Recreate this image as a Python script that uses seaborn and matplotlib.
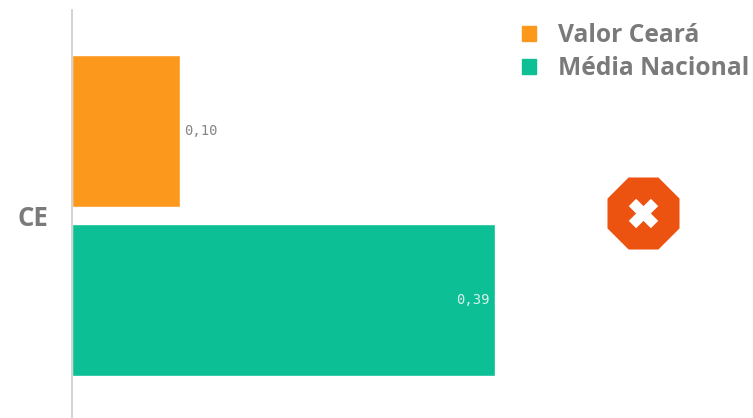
import pandas as pd
import seaborn as sns
import matplotlib.pyplot as plt
from matplotlib.patches import Patch

# Dados do grafico
estados = ['CE', 'CE']
series = ['Valor Ceará', 'Média Nacional']
valores = [0.10, 0.39]
rotulos = ['0,10', '0,39']
cores = ['#FC991D', '#0CBF95']

df = pd.DataFrame({'Estado': estados, 'Serie': series, 'Valor': valores})

sns.set_style('white')
plt.rcParams['font.family'] = ['Open Sans', 'DejaVu Sans']

W, H = 753, 418
fig = plt.figure(figsize=(W / 100, H / 100), dpi=100)
ax = fig.add_axes([72 / W, 0, 681 / W, 408 / H])

sns.barplot(data=df, y='Estado', x='Valor', hue='Serie', palette=cores, hue_order=series,
            width=0.8, gap=0.1, saturation=1, legend=False, ax=ax)

ax.set_xlim(0, 681 / 1084)
ax.set_ylim(0.4804, -0.4856)
ax.set_xlabel('')
ax.set_ylabel('')
ax.set_xticks([])
ax.tick_params(axis='y', length=0, pad=17)
for lab in ax.get_yticklabels():
    lab.set_fontsize(18.5)
    lab.set_fontweight('bold')
    lab.set_color('#7a7a7a')

sns.despine(ax=ax, top=True, right=True, bottom=True)
ax.spines['left'].set_color('#d2d2d2')
ax.spines['left'].set_linewidth(1.4)

# Rotulos de valor
ax.bar_label(ax.containers[0], labels=[rotulos[0]], padding=3, color='#858585',
             fontsize=10, family='DejaVu Sans Mono')
ax.bar_label(ax.containers[1], labels=[rotulos[1]], padding=-28, color='#d8f3ec',
             fontsize=10, family='DejaVu Sans Mono')

# Legenda
handles = [Patch(color=c, label=s) for c, s in zip(cores, series)]
fig.legend(handles=handles, loc='upper left', bbox_to_anchor=(522 / W, 1 - 23 / H),
           frameon=False, handlelength=0.56, handleheight=0.56, handletextpad=0.9,
           labelspacing=0.34, borderpad=0, borderaxespad=0,
           prop={'size': 17.7, 'weight': 'bold'}, labelcolor='#7a7a7a')

# Icone de status
icone = fig.add_axes([(643 - 45) / W, 1 - (213 + 45) / H, 90 / W, 90 / H])
icone.set_xlim(-1, 1)
icone.set_ylim(-1, 1)
icone.axis('off')
icone.scatter([0], [0], marker='8', s=3150, color='#EC5210', linewidths=0)
icone.scatter([0], [0], marker='X', s=450, color='white', linewidths=0)

fig.savefig('out.png', dpi=100, facecolor='white')
